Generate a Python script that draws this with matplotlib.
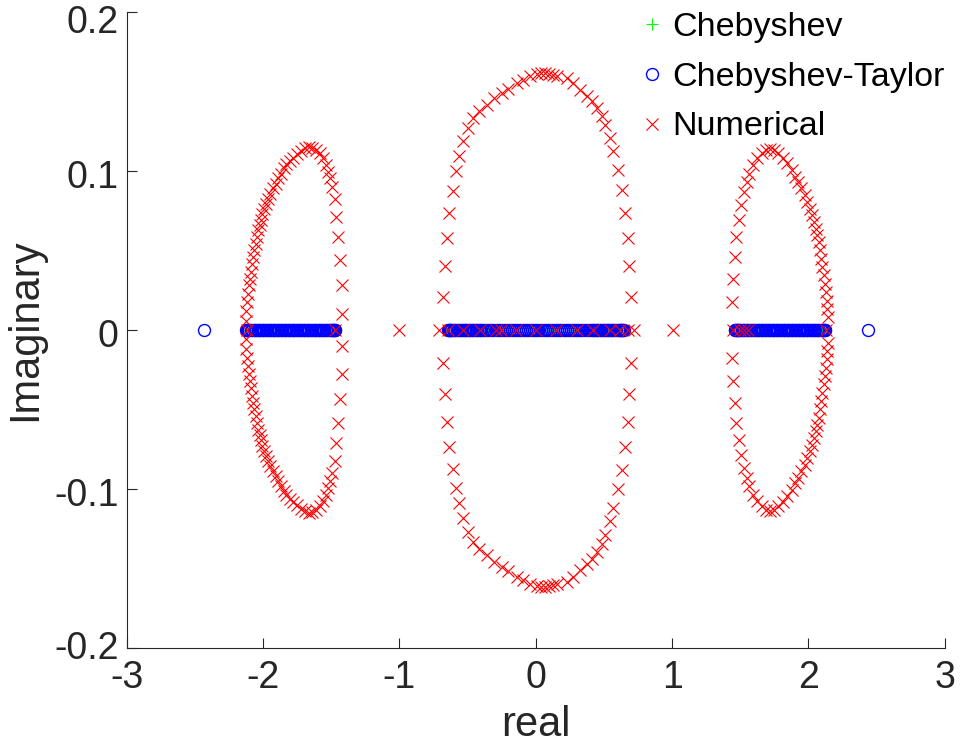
import matplotlib
matplotlib.use("Agg")
import matplotlib.pyplot as plt
import matplotlib.transforms as mtransforms
import numpy as np

plt.rcParams['font.family'] = ['Liberation Sans', 'DejaVu Sans']
plt.rcParams['axes.unicode_minus'] = False

# Chebyshev roots (green +), real axis only
cheb_re = [-2.10, -1.95, -1.80, -1.62, -1.50,
           -0.62, -0.55, -0.48, -0.35, -0.20, -0.04, 0.12, 0.27, 0.47, 0.55, 0.62,
           1.50, 1.62, 1.80, 1.95, 2.10]
cheb_im = [0.0] * len(cheb_re)

# Chebyshev-Taylor roots (blue o), real axis only -- packed so tight they form bands
ct_left = [-2.435,
           -2.125, -2.12, -2.115, -2.11, -2.10, -2.09, -2.08, -2.07, -2.06, -2.05,
           -2.04, -2.03, -2.02, -2.01, -2.00, -1.99, -1.98, -1.97, -1.96, -1.95,
           -1.94, -1.93, -1.92, -1.91, -1.90, -1.89, -1.88, -1.87, -1.86, -1.85,
           -1.84, -1.83, -1.82, -1.81, -1.80, -1.79, -1.78, -1.77, -1.76, -1.75,
           -1.74, -1.73, -1.72, -1.71, -1.70, -1.69, -1.68, -1.67, -1.66, -1.65,
           -1.64, -1.63, -1.62, -1.61, -1.60, -1.59, -1.58, -1.57, -1.56, -1.55,
           -1.54, -1.53, -1.52, -1.51, -1.50, -1.495, -1.49, -1.485, -1.48, -1.475,
           -1.47]
ct_mid = [-0.645, -0.64, -0.635, -0.63, -0.625, -0.62, -0.61, -0.60, -0.59, -0.58,
          -0.57, -0.56, -0.55, -0.54, -0.53, -0.52, -0.51, -0.50, -0.49, -0.48,
          -0.47, -0.46, -0.45, -0.44, -0.43, -0.42, -0.41, -0.40, -0.385, -0.37,
          -0.355, -0.34, -0.325, -0.31, -0.295, -0.28, -0.265, -0.25, -0.235, -0.22,
          -0.205, -0.19, -0.175, -0.16, -0.145, -0.13, -0.115, -0.10, -0.085, -0.07,
          -0.055, -0.04, -0.025, -0.01, 0.005, 0.02, 0.035, 0.05, 0.065, 0.08,
          0.095, 0.11, 0.125, 0.14, 0.155, 0.17, 0.185, 0.20, 0.215, 0.23,
          0.245, 0.26, 0.275, 0.29, 0.305, 0.32, 0.335, 0.35, 0.365, 0.38,
          0.395, 0.41, 0.42, 0.43, 0.44, 0.45, 0.46, 0.47, 0.48, 0.49,
          0.50, 0.51, 0.52, 0.53, 0.54, 0.55, 0.56, 0.57, 0.58, 0.59,
          0.60, 0.61, 0.62, 0.625, 0.63, 0.635, 0.64, 0.645]
ct_right = [1.46, 1.465, 1.47, 1.475, 1.48, 1.485, 1.49, 1.50, 1.51, 1.52,
            1.53, 1.54, 1.55, 1.56, 1.57, 1.58, 1.59, 1.60, 1.61, 1.62,
            1.63, 1.64, 1.65, 1.66, 1.67, 1.68, 1.69, 1.70, 1.71, 1.72,
            1.73, 1.74, 1.75, 1.76, 1.77, 1.78, 1.79, 1.80, 1.81, 1.82,
            1.83, 1.84, 1.85, 1.86, 1.87, 1.88, 1.89, 1.90, 1.91, 1.92,
            1.93, 1.94, 1.95, 1.96, 1.97, 1.98, 1.99, 2.00, 2.01, 2.02,
            2.03, 2.04, 2.05, 2.06, 2.07, 2.08, 2.09, 2.10, 2.11, 2.115,
            2.12, 2.125,
            2.44]

# Numerical roots (red x): points on the real axis
num_axis_re = [-2.115, -1.475, -1.0, -0.709, -0.643, -0.534, -0.411, -0.288,
               -0.252, -0.142, 0.005, 0.152, 0.299, 0.421, 0.543, 0.616, 0.677,
               0.719, 1.01, 1.445, 1.50, 1.53, 1.556, 2.13]

# Numerical roots, upper half of the left loop (lower half is the conjugate)
left_re = [-2.128, -2.123, -2.118, -2.113, -2.103, -2.093, -2.086, -2.079, -2.074,
           -2.064, -2.054, -2.045, -2.035, -2.025, -2.015, -2.005, -1.990, -1.976,
           -1.961, -1.947, -1.927, -1.908, -1.888, -1.869, -1.849, -1.829, -1.805,
           -1.781, -1.751, -1.722, -1.693, -1.663, -1.638, -1.609, -1.585, -1.560,
           -1.541, -1.524, -1.511, -1.492, -1.475, -1.462, -1.450, -1.433, -1.423,
           -1.418]
left_im = [0.0059, 0.0122, 0.0175, 0.0227, 0.0280, 0.0322, 0.0364, 0.0416, 0.0459,
           0.0500, 0.0543, 0.0585, 0.0627, 0.0658, 0.0690, 0.0732, 0.0763, 0.0795,
           0.0826, 0.0858, 0.0890, 0.0921, 0.0953, 0.0984, 0.1016, 0.1041, 0.1062,
           0.1083, 0.1104, 0.1125, 0.1142, 0.1152, 0.1146, 0.1131, 0.1110, 0.1079,
           0.1037, 0.0995, 0.0953, 0.0900, 0.0826, 0.0711, 0.0585, 0.0437, 0.0280,
           0.0101]

# upper half of the middle loop
mid_re = [-0.682, -0.668, -0.653, -0.638, -0.609, -0.587, -0.565, -0.536, -0.499,
          -0.462, -0.418, -0.360, -0.308, -0.249, -0.205, -0.139, -0.095, -0.044,
          0.007, 0.037, 0.066, 0.095, 0.125, 0.154, 0.227, 0.271, 0.323, 0.374,
          0.411, 0.448, 0.484, 0.506, 0.543, 0.565, 0.602, 0.631, 0.653, 0.675,
          0.682, 0.697]
mid_im = [0.0208, 0.0404, 0.0580, 0.0738, 0.0877, 0.0997, 0.1091, 0.1186, 0.1268,
          0.1331, 0.1375, 0.1413, 0.1457, 0.1489, 0.1514, 0.1552, 0.1571, 0.1596,
          0.1608, 0.1615, 0.1615, 0.1612, 0.1605, 0.1596, 0.1584, 0.1552, 0.1508,
          0.1470, 0.1438, 0.1394, 0.1344, 0.1287, 0.1205, 0.1123, 0.1003, 0.0883,
          0.0738, 0.0580, 0.0404, 0.0208]

# upper half of the right loop
right_re = [1.436, 1.448, 1.460, 1.472, 1.492, 1.509, 1.526, 1.546, 1.565, 1.594,
            1.624, 1.656, 1.687, 1.717, 1.746, 1.778, 1.810, 1.844, 1.876, 1.900,
            1.924, 1.949, 1.974, 1.990, 2.010, 2.025, 2.040, 2.054, 2.064, 2.074,
            2.084, 2.093, 2.103, 2.113, 2.120, 2.128, 2.133, 2.137, 2.142]
right_im = [0.0175, 0.0322, 0.0459, 0.0585, 0.0690, 0.0785, 0.0869, 0.0932, 0.0984,
            0.1037, 0.1079, 0.1110, 0.1131, 0.1138, 0.1131, 0.1110, 0.1083, 0.1047,
            0.1005, 0.0963, 0.0932, 0.0890, 0.0847, 0.0806, 0.0763, 0.0721, 0.0680,
            0.0637, 0.0595, 0.0553, 0.0500, 0.0448, 0.0395, 0.0343, 0.0290, 0.0238,
            0.0185, 0.0132, 0.0080]

xticks = [-3, -2, -1, 0, 1, 2, 3]
yticks = [-0.2, -0.1, 0, 0.1, 0.2]
yticklabels = ['-0.2', '-0.1', '0', '0.1', '0.2']

ct_re = ct_left + ct_mid + ct_right
ct_im = [0.0] * len(ct_re)

# roots of a real polynomial come in conjugate pairs
loops_re = np.array(left_re + mid_re + right_re)
loops_im = np.array(left_im + mid_im + right_im)
num_re = np.concatenate([num_axis_re, loops_re, loops_re])
num_im = np.concatenate([np.zeros(len(num_axis_re)), loops_im, -loops_im])

fig = plt.figure(figsize=(9.75, 7.49), dpi=100)
ax = fig.add_axes([0.130, 0.135, 0.839, 0.849])

ax.plot(cheb_re, cheb_im, '+', color=(0, 1, 0), ms=8, mew=0.8, label='Chebyshev')
ax.plot(ct_re, ct_im, 'o', color=(0, 0, 1), mfc='none', ms=8.6, mew=1.0,
        label='Chebyshev-Taylor')
ax.plot(num_re, num_im, 'x', color=(1, 0, 0), ms=8.5, mew=0.8, label='Numerical')

ax.set_xlim(-3, 3)
ax.set_ylim(-0.2, 0.2)
ax.set_xticks(xticks)
ax.set_xticklabels([str(t) for t in xticks])
ax.set_yticks(yticks)
ax.set_yticklabels(yticklabels)

for s in ['top', 'right']:
    ax.spines[s].set_visible(False)
for s in ['left', 'bottom']:
    ax.spines[s].set_color('#262626')
    ax.spines[s].set_linewidth(0.8)
ax.tick_params(direction='in', length=7, width=0.8, colors='#262626',
               labelsize=27)
ax.tick_params(axis='y', pad=6)
ax.tick_params(axis='x', pad=9)

# y tick labels sit a little below their ticks, the top one a bit more,
# the bottom one slightly raised to clear the x labels
for lab, t in zip(ax.get_yticklabels(), yticks):
    dy = {0.2: -7, -0.2: 3}.get(t, -3)
    lab.set_transform(lab.get_transform() +
                      mtransforms.ScaledTranslation(0, dy / 100, fig.dpi_scale_trans))

ax.set_xlabel('real', fontsize=30, color='#262626', labelpad=6)
ax.set_ylabel('Imaginary', fontsize=30, color='#262626', labelpad=6)

leg = ax.legend(loc='upper right', bbox_to_anchor=(1.0, 1.0), frameon=False,
                fontsize=24.5, handlelength=0.6, handletextpad=0.3,
                labelspacing=0.55, borderaxespad=0.0, borderpad=0.0)

fig.savefig('out.png', dpi=100)
